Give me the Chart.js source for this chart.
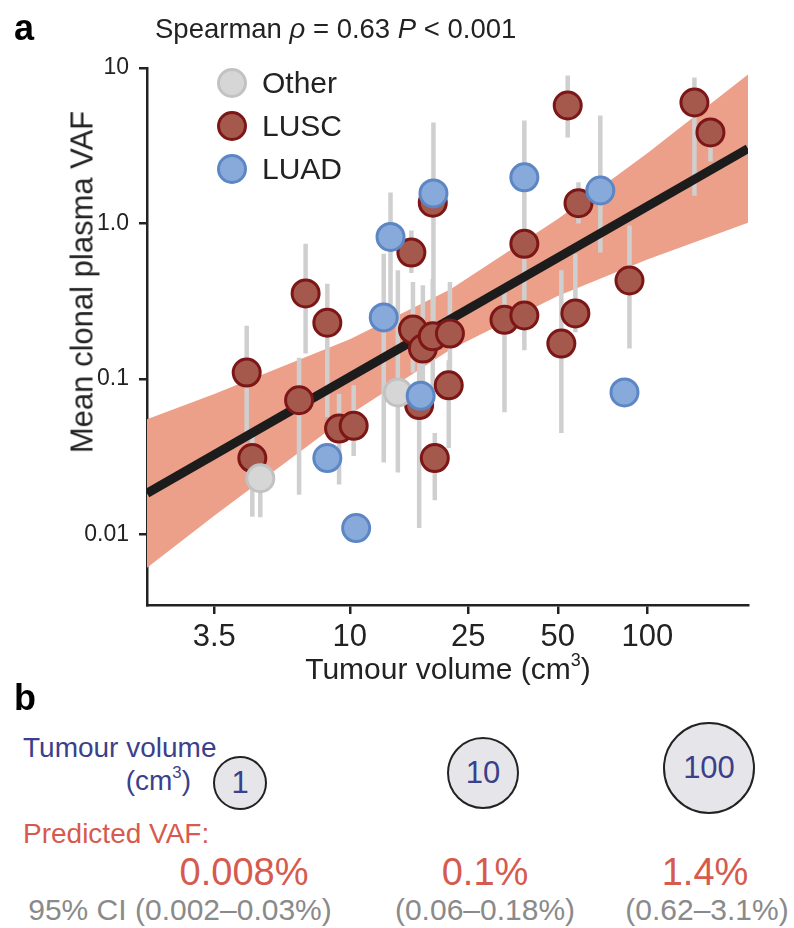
<!DOCTYPE html>
<html>
<head>
<meta charset="utf-8">
<script src="https://cdn.jsdelivr.net/npm/chart.js@4.4.1/dist/chart.umd.min.js"></script>
<style>
  body { margin: 0; background: #fff; font-family: "Liberation Sans", Arial, sans-serif; }
  #page { position: relative; width: 794px; height: 928px; overflow: hidden; }
  #c { position: absolute; left: 0; top: 0; }
  .c { position: absolute; white-space: nowrap; line-height: 1; transform: translate(-50%, -50%); }
  .l { position: absolute; white-space: nowrap; line-height: 1; transform: translateY(-50%); }
  .r { position: absolute; white-space: nowrap; line-height: 1; transform: translate(-100%, -50%); }
  .dot { position: absolute; width: 24px; height: 24px; border-radius: 50%; border: 3px solid; transform: translate(-50%, -50%); }
  .bub { position: absolute; border-radius: 50%; border: 2.5px solid #222; background: #e6e6ea;
         transform: translate(-50%, -50%); display: flex; align-items: center; justify-content: center;
         color: #3b3f8c; font-size: 31px; box-sizing: border-box; }
  sup { font-size: 0.6em; vertical-align: 0.7em; line-height: 0; }
</style>
</head>
<body>
<div id="page">
  <canvas id="c" width="794" height="700"></canvas>

  <div class="l" style="left:14px; top:28px; font-size:36px; font-weight:bold;">a</div>
  <div class="l" style="left:155px; top:29px; font-size:27.5px; color:#222;">Spearman <i>ρ</i> = 0.63 <i>P</i> &lt; 0.001</div>

  <!-- legend -->
  <div class="dot" style="left:232px; top:83px; background:#d6d6d6; border-color:#c2c2c2;"></div>
  <div class="l" style="left:262px; top:83px; font-size:30px; color:#222;">Other</div>
  <div class="dot" style="left:232px; top:126px; background:#a4594c; border-color:#7d1616;"></div>
  <div class="l" style="left:262px; top:126px; font-size:30px; color:#222;">LUSC</div>
  <div class="dot" style="left:232px; top:169px; background:#88aadb; border-color:#5d86c4;"></div>
  <div class="l" style="left:262px; top:169px; font-size:30px; color:#222;">LUAD</div>

  <!-- axis titles -->
  <div class="c" style="left:82px; top:282px; font-size:31px; color:#222; transform:translate(-50%,-50%) rotate(-90deg);">Mean clonal plasma VAF</div>
  <div class="c" style="left:448px; top:669px; font-size:30px; color:#222;">Tumour volume (cm<sup>3</sup>)</div>

  <!-- panel b -->
  <div class="l" style="left:14px; top:698px; font-size:36px; font-weight:bold;">b</div>
  <div class="l" style="left:23px; top:748px; font-size:28px; color:#3b3f8c;">Tumour volume</div>
  <div class="r" style="left:191px; top:781px; font-size:28px; color:#3b3f8c;">(cm<sup>3</sup>)</div>
  <div class="bub" style="left:240px; top:783px; width:54px; height:54px;">1</div>
  <div class="bub" style="left:483px; top:773px; width:72px; height:72px;">10</div>
  <div class="bub" style="left:709px; top:768px; width:92px; height:92px;">100</div>

  <div class="l" style="left:23px; top:834px; font-size:28px; color:#d65a4e;">Predicted VAF:</div>
  <div class="c" style="left:244px; top:872px; font-size:38px; color:#d65a4e;">0.008%</div>
  <div class="c" style="left:485px; top:872px; font-size:38px; color:#d65a4e;">0.1%</div>
  <div class="c" style="left:705px; top:872px; font-size:38px; color:#d65a4e;">1.4%</div>
  <div class="c" style="left:180px; top:910px; font-size:30px; color:#8a8a8a;">95% CI (0.002–0.03%)</div>
  <div class="c" style="left:485px; top:910px; font-size:30px; color:#8a8a8a;">(0.06–0.18%)</div>
  <div class="c" style="left:707px; top:910px; font-size:30px; color:#8a8a8a;">(0.62–3.1%)</div>
</div>

<script>
// axis ticks
const xTicks = [3.5, 10, 25, 50, 100];
const yTicks = [0.01, 0.1, 1, 10];
const yTickLabels = ["0.01", "0.1", "1.0", "10"];

// LUSC tumours: volume (cm3), mean clonal plasma VAF, error bar ends
const luscVolume = [4.5, 4.7, 6.75, 7.1, 8.4, 9.2, 10.3, 16.1, 16.3, 17.6, 17.1, 19.0, 19.0, 19.3, 21.5, 21.7, 33.1, 38.6, 38.6, 51.4, 54, 57.3, 58.7, 87.1, 144, 163];
const luscVaf = [0.11, 0.031, 0.073, 0.355, 0.23, 0.048, 0.050, 0.65, 0.208, 0.157, 0.068, 0.188, 1.36, 0.031, 0.091, 0.196, 0.24, 0.74, 0.256, 0.169, 5.74, 0.264, 1.35, 0.43, 6.0, 3.85];
const luscLow = [0.040, 0.013, 0.018, 0.146, 0.057, 0.021, 0.032, 0.48, 0.11, 0.09, 0.011, 0.075, null, 0.0166, 0.036, 0.10, 0.061, 0.33, 0.153, 0.045, 3.57, 0.2, 1.0, 0.157, 1.51, 2.5];
const luscHigh = [0.22, 0.045, 0.137, 0.74, 0.41, 0.08, 0.091, 0.90, 0.42, 0.40, 0.126, 0.44, null, 0.045, 0.132, 0.42, 0.37, 1.3, 0.33, 0.50, 8.95, 0.64, 1.84, 0.97, 8.69, 4.3];

// LUAD tumours
const luadVolume = [8.4, 10.5, 13.0, 13.7, 17.3, 19.1, 38.6, 69.5, 83.8];
const luadVaf = [0.031, 0.011, 0.249, 0.82, 0.078, 1.56, 1.98, 1.63, 0.082];
const luadLow = [null, null, 0.029, 0.30, null, 0.205, 0.85, 0.65, null];
const luadHigh = [null, null, 0.64, 1.58, null, 4.46, 4.6, 4.95, null];

// other histology
const otherVolume = [5.0, 14.5];
const otherVaf = [0.023, 0.082];
const otherLow = [0.0129, 0.025];
const otherHigh = [0.028, 0.50];

// regression line and its 95% band
const fitVolume = [2.08, 218];
const fitVaf = [0.0184, 3.03];
const bandVolume = [2.08, 3.5, 10, 21.8, 50, 100, 218];
const bandLow = [0.0061, 0.0132, 0.059, 0.155, 0.342, 0.586, 1.01];
const bandHigh = [0.055, 0.080, 0.18, 0.378, 1.07, 2.83, 9.08];

function toPoints(xs, ys) {
    return xs.map((x, i) => ({ x: x, y: ys[i] }));
}

// vertical error bars as one broken line per group
function errorBars(xs, lo, hi) {
    let pts = [];
    xs.forEach((x, i) => {
        if (lo[i] == null) return;
        pts.push({ x: x, y: lo[i] }, { x: x, y: hi[i] }, { x: x, y: null });
    });
    return pts;
}

function markers(xs, ys, fill, edge, order) {
    return {
        data: toPoints(xs, ys),
        showLine: false,
        pointRadius: 13.5,
        pointHoverRadius: 13.5,
        pointBorderWidth: 3,
        pointBackgroundColor: fill,
        pointBorderColor: edge,
        order: order
    };
}

const bars = errorBars(luscVolume, luscLow, luscHigh)
    .concat(errorBars(luadVolume, luadLow, luadHigh))
    .concat(errorBars(otherVolume, otherLow, otherHigh));

const axisColor = "#222";

new Chart(document.getElementById("c"), {
    type: "scatter",
    data: {
        datasets: [
            { data: toPoints(bandVolume, bandLow), showLine: true, borderWidth: 0, pointRadius: 0, fill: false, order: 7 },
            { data: toPoints(bandVolume, bandHigh), showLine: true, borderWidth: 0, pointRadius: 0, fill: "-1",
              backgroundColor: "#eda089", order: 6 },
            { data: bars, showLine: true, spanGaps: false, borderColor: "#cfcfcf", borderWidth: 4.5, pointRadius: 0, order: 5 },
            { data: toPoints(fitVolume, fitVaf), showLine: true, borderColor: "#1c1c1c", borderWidth: 9, pointRadius: 0, order: 4 },
            markers(luscVolume, luscVaf, "#a4594c", "#7d1616", 3),
            markers(otherVolume, otherVaf, "#d6d6d6", "#c2c2c2", 2),
            markers(luadVolume, luadVaf, "#88aadb", "#5d86c4", 1)
        ]
    },
    options: {
        responsive: false,
        animation: false,
        layout: { padding: { top: 68, right: 46, left: 0, bottom: 0 } },
        plugins: {
            legend: { display: false },
            tooltip: { enabled: false }
        },
        scales: {
            x: {
                type: "logarithmic",
                min: 2.08,
                max: 218,
                bounds: "data",
                afterBuildTicks: (scale) => { scale.ticks = xTicks.map(v => ({ value: v })); },
                afterFit: (scale) => { scale.height = 95; },
                grid: { drawOnChartArea: false, tickLength: 9, color: axisColor, lineWidth: 2.5 },
                border: { display: true, color: axisColor, width: 2.5 },
                ticks: {
                    autoSkip: false, maxRotation: 0, padding: 5, color: "#222",
                    font: { family: "Liberation Sans", size: 31 },
                    callback: (v) => String(v)
                }
            },
            y: {
                type: "logarithmic",
                min: 0.00352,
                max: 10,
                bounds: "data",
                afterBuildTicks: (scale) => { scale.ticks = yTicks.map(v => ({ value: v })); },
                afterFit: (scale) => { scale.width = 147; },
                grid: { drawOnChartArea: false, tickLength: 8, color: axisColor, lineWidth: 2.5 },
                border: { display: true, color: axisColor, width: 2.5 },
                ticks: {
                    autoSkip: false, padding: 10, color: "#222",
                    font: { family: "Liberation Sans", size: 23 },
                    callback: (v) => yTickLabels[yTicks.indexOf(v)]
                }
            }
        }
    }
});
</script>
</body>
</html>
